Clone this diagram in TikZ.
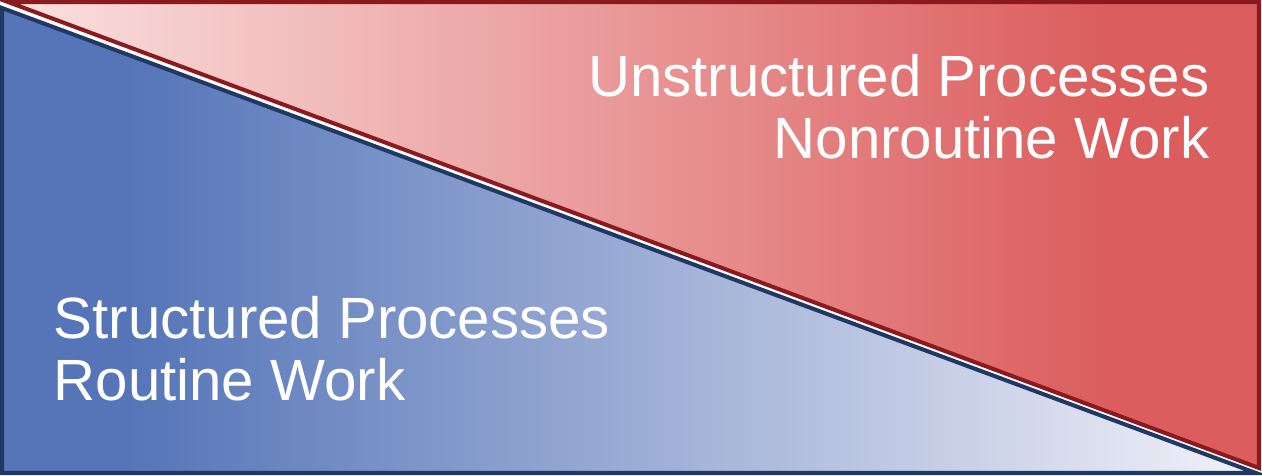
\documentclass[tikz,border=0pt]{standalone}
\usepackage{fontspec}
\setmainfont{Liberation Sans}
\usetikzlibrary{positioning}
\definecolor{navyedge}{HTML}{1F3864}
\definecolor{blueleft}{HTML}{5575B8}
\definecolor{blueright}{HTML}{F2F1F8}
\definecolor{rededge}{HTML}{8B1A1E}
\definecolor{redleft}{HTML}{FAE1E1}
\definecolor{redright}{HTML}{DC5D5D}
\pgfdeclarehorizontalshading{structshade}{100bp}{color(0bp)=(blueleft); color(30bp)=(blueleft); color(75bp)=(blueright); color(100bp)=(blueright)}
\pgfdeclarehorizontalshading{unstructshade}{100bp}{color(0bp)=(redleft); color(25bp)=(redleft); color(69bp)=(redright); color(100bp)=(redright)}
\tikzset{
    wedge/.style={line width=1.15pt, line join=miter},
    lbl/.style={text=white, inner sep=0pt, font=\fontsize{16.55}{17.4}\selectfont}
}
\begin{document}
\begin{tikzpicture}[x=0.01cm, y=-0.01cm]
    \useasboundingbox (0,0) rectangle (1262,476);

    % structured (lower left)
    \draw[wedge, navyedge, shading=structshade]
        (2,8) -- (2,473) -- (1256,473) -- cycle;
    % unstructured (upper right)
    \draw[wedge, rededge, shading=unstructshade]
        (8,2) -- (1259,2) -- (1259,468) -- cycle;

    \node[lbl, anchor=north east, align=right] (unstructured) at (1210,54) {Unstructured Processes\\Nonroutine Work};
    \node[lbl, anchor=north west, align=left] (structured) at (53,296) {Structured Processes\\Routine Work};

\end{tikzpicture}
\end{document}
